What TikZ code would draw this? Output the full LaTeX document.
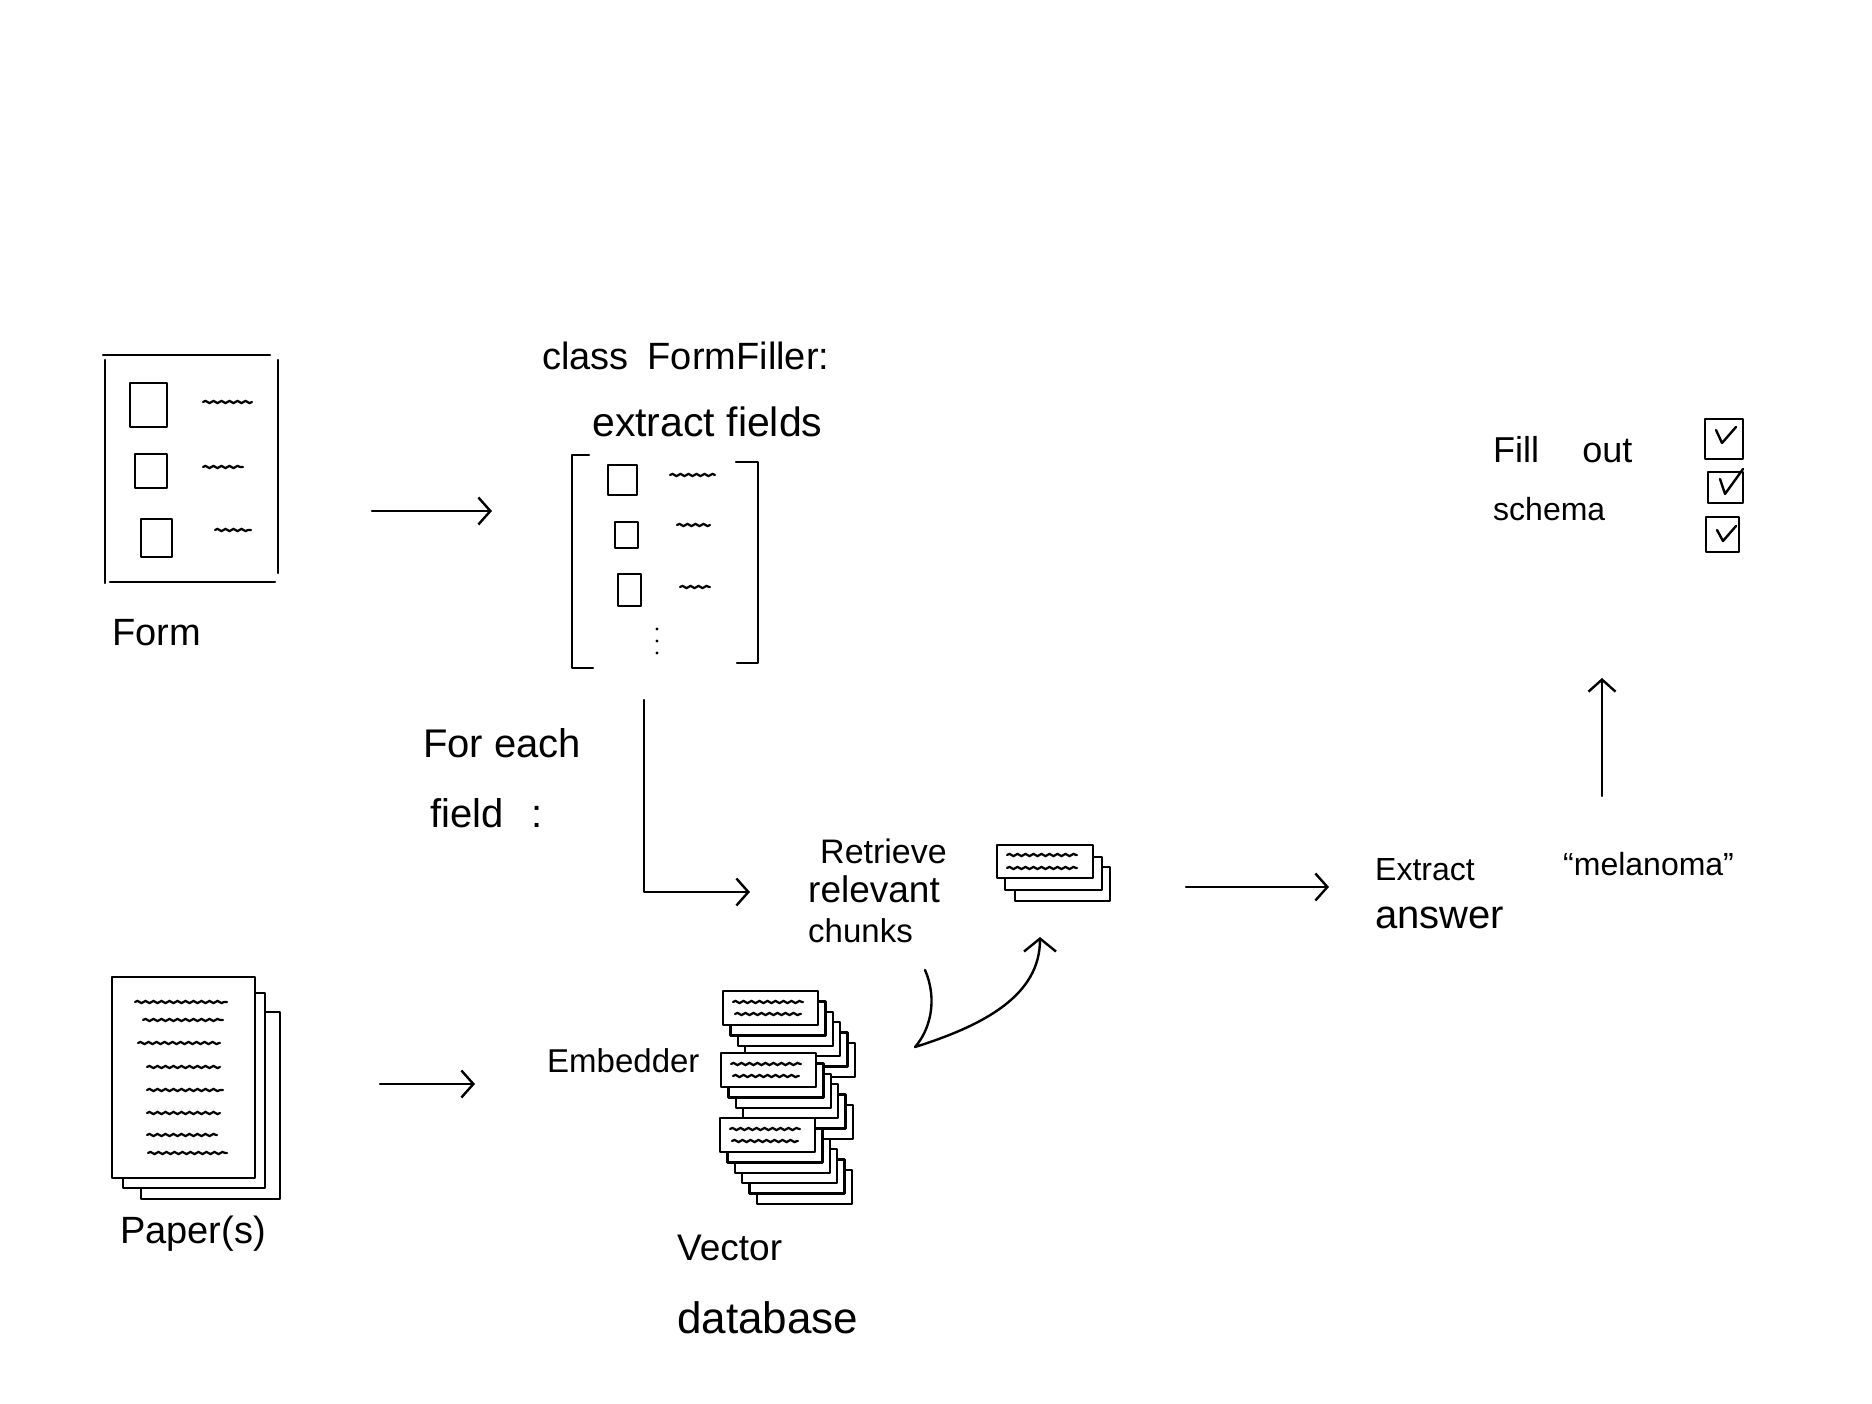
\documentclass[tikz,border=0pt]{standalone}
\usepackage{fontspec}
\setmainfont{Liberation Sans}
\usetikzlibrary{arrows.meta,decorations.pathmorphing,calc}

\tikzset{
  ink/.style={line width=2.4pt, line cap=round, line join=round},
  wiggle/.style={line width=2.2pt, line cap=round, decorate,
    decoration={snake, segment length=8pt, amplitude=1.1pt}},
  barb/.tip={Straight Barb[length=12pt,width=27pt]},
  arr/.style={ink, -barb},
  card/.style={ink, fill=white},
  lbl/.style={inner sep=0pt, anchor=base west},
}
\newcommand{\fsz}[1]{\fontsize{#1}{#1}\selectfont}

\begin{document}
\begin{tikzpicture}[x=1pt,y=-1pt]
\fill[white] (0,0) rectangle (1872,1404);
\useasboundingbox (0,0) rectangle (1872,1404);

% ---------------- the form ----------------
\draw[ink] (103,355) -- (270,355);
\draw[ink] (105,360) -- (105,583);
\draw[ink] (278,360) -- (278,573);
\draw[ink] (110,582) -- (275,582);
\draw[ink] (130,383) rectangle (167,427);
\draw[ink] (135,454) rectangle (167,488);
\draw[ink] (141,519) rectangle (172,557);
\draw[wiggle] (203,402) -- (252,402);
\draw[wiggle] (203,467) -- (243,467);
\draw[wiggle] (215,530) -- (251,530);
\node[lbl, font=\fsz{38}] (formlbl) at (112,645) {Form};

\coordinate (a1s) at (372,511);
\coordinate (a1e) at (492,511);
\draw[arr] (a1s) -- (a1e);

% ---------------- extracted fields ----------------
\node[lbl, font=\fsz{38}] (classlbl) at (542,370) {class\hspace{0.5em}FormFiller:};
\node[lbl, font=\fsz{41}] (extractlbl) at (592,437) {extract fields};

\draw[ink] (589,455) -- (572,455) -- (572,668) -- (593,668);
\draw[ink] (736,462) -- (758,462) -- (758,663) -- (737,663);
\draw[ink] (608,465) rectangle (637,495);
\draw[ink] (615,522) rectangle (638,548);
\draw[ink] (618,574) rectangle (641,606);
\draw[wiggle] (670,475) -- (715,475);
\draw[wiggle] (677,525) -- (710,525);
\draw[wiggle] (680,587) -- (710,587);
\foreach \y in {629,641,653} \fill (657,\y) circle (1.6pt);

% ---------------- loop over fields ----------------
\node[lbl, font=\fsz{40}] (foreach1) at (423,757) {For each};
\node[lbl, font=\fsz{40}] (foreach2) at (430,827) {field\hspace{0.7em}:};
\coordinate (l0) at (644,700);
\coordinate (l1) at (750,892);
\draw[arr] (l0) |- (l1);

\node[lbl, font=\fsz{34}] (retrieve1) at (820,863) {Retrieve};
\node[lbl, font=\fsz{37}] (retrieve2) at (808,902) {relevant};
\node[lbl, font=\fsz{33}] (retrieve3) at (808,942) {chunks};

% retrieved chunks
\draw[card] (1015,867) rectangle (1110,901);
\draw[card] (1005,857) rectangle (1102,890);
\draw[card] (997,845) rectangle (1093,878);
\draw[wiggle] (1007,855) -- (1077,855);
\draw[wiggle] (1007,868) -- (1077,868);

% retrieval between database and chunks
\coordinate (c0) at (925,970);
\coordinate (c1) at (915,1047);
\coordinate (c2) at (1040,937);
\draw[ink, -{Straight Barb[length=13pt,width=32pt]}]
  (c0) .. controls (938,1000) and (930,1030) .. (c1)
  .. controls (985,1025) and (1040,995) .. (c2);

\coordinate (a3s) at (1186,887);
\coordinate (a3e) at (1329,887);
\draw[arr] (a3s) -- (a3e);

\node[lbl, font=\fsz{32}] (extractans1) at (1375,880) {Extract};
\node[lbl, font=\fsz{40}] (extractans2) at (1375,928) {answer};
\node[lbl, font=\fsz{32}] (answer) at (1563,875) {``melanoma''};

\coordinate (a4s) at (1602,796);
\coordinate (a4e) at (1602,678);
\draw[arr] (a4s) -- (a4e);

% ---------------- filled schema ----------------
\node[lbl, font=\fsz{36}] (filllbl1) at (1493,463) {Fill\hspace{1.2em}out};
\node[lbl, font=\fsz{32}] (filllbl2) at (1493,520) {schema};
\draw[ink] (1705,419) rectangle (1743,459);
\draw[ink] (1708,472) rectangle (1743,503);
\draw[ink] (1706,517) rectangle (1739,552);
\draw[ink] (1716,430) -- (1722,443) -- (1736,427);
\draw[ink] (1720,479) -- (1725,494) -- (1743,469);
\draw[ink] (1717,530) -- (1723,541) -- (1736,526);

% ---------------- papers ----------------
\draw[card] (141,1012) rectangle (280,1199);
\draw[card] (123,993) rectangle (265,1188);
\draw[card] (112,977) rectangle (255,1178);
\draw[wiggle] (135,1002) -- (227,1002);
\draw[wiggle] (143,1020) -- (223,1020);
\draw[wiggle] (138,1043) -- (220,1043);
\draw[wiggle] (147,1067) -- (220,1067);
\draw[wiggle] (147,1090) -- (223,1090);
\draw[wiggle] (147,1113) -- (220,1113);
\draw[wiggle] (147,1135) -- (217,1135);
\draw[wiggle] (148,1153) -- (227,1153);
\node[lbl, font=\fsz{38}] (paperlbl) at (120,1243) {Paper(s)};

\coordinate (a2s) at (380,1084);
\coordinate (a2e) at (475,1084);
\draw[arr] (a2s) -- (a2e);

\node[lbl, font=\fsz{33}] (embedder) at (547,1072) {Embedder};

% ---------------- vector database ----------------
\foreach \X/\Y in {723/991, 721/1053, 720/1118}{
  \foreach \k in {5,4,3,2,1}{
    \draw[card] ($(\X,\Y)+(7.4*\k,10.4*\k)$) rectangle +(95,34);
  }
  \draw[card] (\X,\Y) rectangle +(95,34);
  \draw[wiggle] ($(\X,\Y)+(10,11)$) -- +(70,0);
  \draw[wiggle] ($(\X,\Y)+(12,23)$) -- +(66,0);
}
\node[lbl, font=\fsz{37}] (dblbl1) at (677,1260) {Vector};
\node[lbl, font=\fsz{44}] (dblbl2) at (677,1333) {database};

\end{tikzpicture}
\end{document}
